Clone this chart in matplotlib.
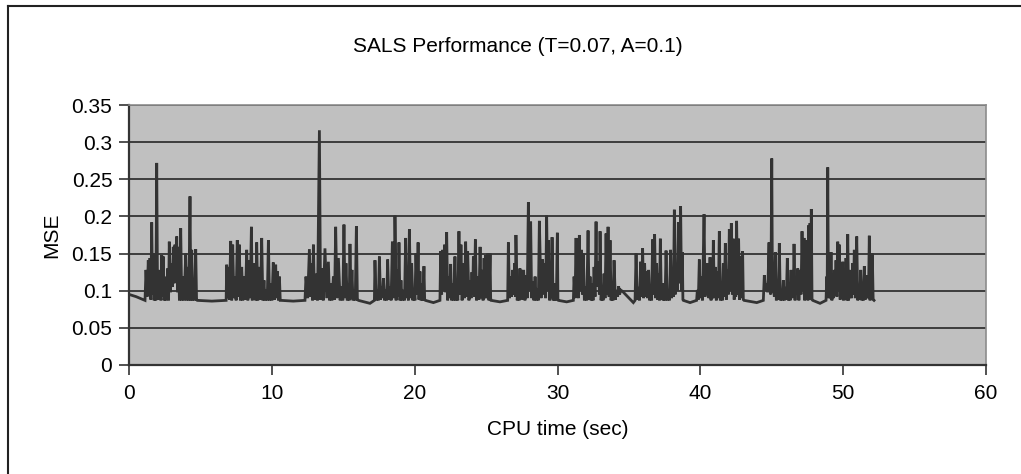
import matplotlib
matplotlib.use("Agg")
import matplotlib.pyplot as plt
from matplotlib.lines import Line2D

# SALS run: CPU time (sec) vs. mean squared error
cpu_time = [
    0.00, 0.50, 1.12,
    1.19, 1.27, 1.35, 1.41, 1.47, 1.53, 1.59, 1.65, 1.70, 1.76, 1.82, 1.88, 1.94, 2.00,
    2.05, 2.11, 2.17, 2.23, 2.29, 2.35, 2.40, 2.46, 2.52, 2.58, 2.64, 2.68, 2.71, 2.77,
    2.82, 2.90, 2.99, 3.05, 3.10, 3.16, 3.22, 3.28, 3.34, 3.40, 3.45, 3.53, 3.62, 3.69,
    3.76, 3.86, 3.97, 4.04, 4.11, 4.19, 4.27, 4.33, 4.39, 4.45, 4.50, 4.58, 4.67, 4.73, 4.78,
    5.80, 6.80,
    6.84, 6.90, 6.95, 7.03, 7.12, 7.19, 7.26, 7.34, 7.42, 7.50, 7.58, 7.65, 7.72, 7.80,
    7.89, 7.97, 8.05, 8.15, 8.24, 8.32, 8.40, 8.48, 8.57, 8.63, 8.70, 8.76, 8.82, 8.88,
    8.94, 9.02, 9.10, 9.20, 9.29, 9.37, 9.45, 9.52, 9.59, 9.68, 9.76, 9.84, 9.92, 10.01,
    10.10, 10.18, 10.27, 10.33, 10.39, 10.46, 10.53, 10.59, 10.64,
    11.50, 12.32,
    12.39, 12.51, 12.63, 12.71, 12.79, 12.85, 12.91, 12.99, 13.07, 13.20, 13.33, 13.41,
    13.49, 13.60, 13.72, 13.84, 13.96, 14.04, 14.12, 14.21, 14.31, 14.39, 14.47, 14.56,
    14.66, 14.78, 14.89, 14.97, 15.05, 15.12, 15.19, 15.28, 15.36, 15.42, 15.47, 15.54,
    15.61, 15.68, 15.75, 15.84, 15.92, 15.99, 16.06,
    16.87, 17.18,
    17.22, 17.30, 17.39, 17.46, 17.53, 17.61, 17.69, 17.75, 17.81, 17.89, 17.97, 18.04,
    18.11, 18.19, 18.27, 18.35, 18.44, 18.50, 18.55, 18.59, 18.62, 18.70, 18.79, 18.85,
    18.90, 18.97, 19.04, 19.12, 19.21, 19.29, 19.37, 19.43, 19.49, 19.56, 19.63, 19.71,
    19.79, 19.87, 19.95, 20.02, 20.09, 20.17, 20.24, 20.30, 20.37, 20.44, 20.51, 20.58,
    20.65, 20.70, 20.75,
    21.31, 21.77,
    21.82, 21.89, 21.96, 22.03, 22.10, 22.17, 22.24, 22.31, 22.38, 22.45, 22.52, 22.59,
    22.66, 22.74, 22.82, 22.88, 22.94, 23.02, 23.10, 23.17, 23.24, 23.32, 23.41, 23.49,
    23.57, 23.64, 23.71, 23.80, 23.88, 23.95, 24.01, 24.06, 24.11, 24.18, 24.25, 24.33,
    24.41, 24.50, 24.58, 24.65, 24.72, 24.79, 24.86, 24.92, 24.97, 25.04, 25.11, 25.20,
    25.28, 25.32, 25.35,
    25.97, 26.51,
    26.56, 26.64, 26.72, 26.79, 26.86, 26.93, 27.00, 27.05, 27.09, 27.18, 27.26, 27.32,
    27.37, 27.43, 27.49, 27.56, 27.63, 27.72, 27.80, 27.88, 27.96, 28.04, 28.12, 28.19,
    28.26, 28.35, 28.43, 28.51, 28.59, 28.66, 28.73, 28.85, 28.96, 29.03, 29.10, 29.17,
    29.24, 29.31, 29.38, 29.45, 29.52, 29.57, 29.62, 29.69, 29.76, 29.80, 29.85, 29.92,
    29.99, 30.03, 30.06,
    30.64, 31.11,
    31.16, 31.23, 31.30, 31.35, 31.39, 31.46, 31.53, 31.60, 31.67, 31.74, 31.81, 31.88,
    31.95, 32.05, 32.14, 32.21, 32.28, 32.35, 32.42, 32.49, 32.56, 32.63, 32.70, 32.75,
    32.79, 32.84, 32.88, 32.93, 32.98, 33.05, 33.12, 33.19, 33.26, 33.33, 33.40, 33.47,
    33.54, 33.61, 33.68, 33.75, 33.82, 33.89, 33.96, 34.05, 34.14, 34.21, 34.28, 34.35,
    34.42, 34.56, 35.31,
    35.43, 35.50, 35.58, 35.66, 35.74, 35.82, 35.89, 35.96, 36.03, 36.10, 36.17, 36.24,
    36.31, 36.38, 36.45, 36.52, 36.59, 36.66, 36.73, 36.80, 36.87, 36.94, 37.01, 37.08,
    37.14, 37.20, 37.27, 37.34, 37.40, 37.46, 37.53, 37.60, 37.68, 37.76, 37.84, 37.92,
    37.99, 38.06, 38.12, 38.18, 38.24, 38.30, 38.38, 38.46, 38.54, 38.62, 38.68, 38.74,
    38.78, 38.81,
    39.28, 39.74,
    39.79, 39.86, 39.93, 39.99, 40.05, 40.15, 40.26, 40.33, 40.40, 40.45, 40.51, 40.60,
    40.68, 40.75, 40.82, 40.86, 40.91, 40.98, 41.05, 41.12, 41.19, 41.26, 41.33, 41.40,
    41.47, 41.54, 41.61, 41.68, 41.75, 41.82, 41.89, 41.96, 42.03, 42.10, 42.17, 42.24,
    42.31, 42.37, 42.43, 42.48, 42.54, 42.61, 42.68, 42.75, 42.82, 42.89, 42.96, 43.01,
    43.06,
    43.95, 44.41,
    44.48, 44.56, 44.64, 44.72, 44.81, 44.84, 44.88, 44.94, 45.00, 45.05, 45.11, 45.18,
    45.25, 45.32, 45.39, 45.46, 45.53, 45.60, 45.67, 45.74, 45.81, 45.88, 45.95, 46.02,
    46.09, 46.16, 46.23, 46.29, 46.35, 46.41, 46.47, 46.51, 46.56, 46.63, 46.70, 46.76,
    46.82, 46.90, 46.98, 47.05, 47.12, 47.19, 47.26, 47.30, 47.35, 47.41, 47.47, 47.53,
    47.59, 47.63, 47.68, 47.72, 47.77, 47.82, 47.87,
    48.38, 48.80,
    48.85, 48.88, 48.92, 48.97, 49.03, 49.09, 49.15, 49.21, 49.27, 49.32, 49.38, 49.44,
    49.50, 49.56, 49.62, 49.67, 49.73, 49.79, 49.85, 49.91, 49.97, 50.02, 50.08, 50.14,
    50.20, 50.26, 50.32, 50.38, 50.43, 50.48, 50.53, 50.60, 50.67, 50.72, 50.78, 50.86,
    50.95, 51.02, 51.09, 51.16, 51.23, 51.30, 51.37, 51.42, 51.48, 51.54, 51.60, 51.66,
    51.72, 51.77, 51.83, 51.88, 51.93, 51.98, 52.04, 52.10, 52.16,
]

mse = [
    0.095, 0.092, 0.087,
    0.128, 0.092, 0.141, 0.100, 0.144, 0.088, 0.192, 0.095, 0.150, 0.087, 0.099, 0.087, 0.272, 0.088,
    0.119, 0.090, 0.128, 0.087, 0.148, 0.092, 0.146, 0.087, 0.101, 0.087, 0.119, 0.095, 0.130, 0.087,
    0.166, 0.098, 0.137, 0.105, 0.159, 0.110, 0.162, 0.115, 0.173, 0.098, 0.159, 0.087, 0.184, 0.087,
    0.119, 0.087, 0.150, 0.087, 0.132, 0.087, 0.227, 0.087, 0.155, 0.087, 0.101, 0.087, 0.156, 0.088, 0.087,
    0.086, 0.087,
    0.135, 0.090, 0.132, 0.088, 0.167, 0.087, 0.162, 0.090, 0.119, 0.087, 0.168, 0.092, 0.162, 0.087,
    0.132, 0.087, 0.119, 0.088, 0.155, 0.087, 0.141, 0.090, 0.186, 0.087, 0.137, 0.090, 0.119, 0.087,
    0.165, 0.087, 0.132, 0.088, 0.171, 0.087, 0.114, 0.087, 0.101, 0.087, 0.168, 0.087, 0.110, 0.087,
    0.138, 0.088, 0.135, 0.090, 0.126, 0.087, 0.119, 0.087, 0.087,
    0.086, 0.087,
    0.119, 0.090, 0.156, 0.092, 0.137, 0.087, 0.162, 0.088, 0.123, 0.087, 0.316, 0.088,
    0.130, 0.087, 0.157, 0.090, 0.139, 0.087, 0.110, 0.087, 0.119, 0.088, 0.186, 0.090,
    0.144, 0.087, 0.106, 0.087, 0.189, 0.090, 0.137, 0.087, 0.110, 0.087, 0.163, 0.090,
    0.128, 0.087, 0.101, 0.087, 0.187, 0.088, 0.087,
    0.083, 0.087,
    0.141, 0.087, 0.101, 0.087, 0.146, 0.088, 0.106, 0.090, 0.117, 0.087, 0.101, 0.087,
    0.142, 0.088, 0.106, 0.087, 0.166, 0.090, 0.128, 0.092, 0.201, 0.087, 0.128, 0.092,
    0.165, 0.087, 0.114, 0.087, 0.101, 0.087, 0.171, 0.090, 0.123, 0.087, 0.183, 0.090,
    0.137, 0.087, 0.101, 0.087, 0.150, 0.095, 0.165, 0.088, 0.126, 0.087, 0.110, 0.087,
    0.133, 0.088, 0.087,
    0.084, 0.087,
    0.153, 0.095, 0.155, 0.100, 0.162, 0.098, 0.179, 0.087, 0.119, 0.090, 0.136, 0.087,
    0.110, 0.087, 0.146, 0.087, 0.101, 0.087, 0.180, 0.095, 0.162, 0.087, 0.137, 0.090,
    0.166, 0.092, 0.153, 0.087, 0.114, 0.090, 0.125, 0.095, 0.146, 0.092, 0.169, 0.087,
    0.119, 0.088, 0.159, 0.090, 0.128, 0.087, 0.144, 0.090, 0.148, 0.090, 0.150, 0.087,
    0.150, 0.090, 0.087,
    0.085, 0.087,
    0.165, 0.090, 0.119, 0.092, 0.128, 0.095, 0.137, 0.092, 0.175, 0.087, 0.110, 0.087,
    0.130, 0.090, 0.128, 0.088, 0.128, 0.087, 0.121, 0.090, 0.219, 0.100, 0.193, 0.090,
    0.112, 0.087, 0.119, 0.087, 0.103, 0.087, 0.194, 0.090, 0.142, 0.095, 0.137, 0.090,
    0.201, 0.100, 0.168, 0.087, 0.132, 0.090, 0.172, 0.087, 0.110, 0.087, 0.101, 0.087,
    0.178, 0.088, 0.087,
    0.085, 0.087,
    0.119, 0.090, 0.171, 0.092, 0.119, 0.090, 0.175, 0.100, 0.155, 0.095, 0.150, 0.087,
    0.106, 0.087, 0.181, 0.088, 0.119, 0.087, 0.110, 0.087, 0.132, 0.092, 0.193, 0.110,
    0.137, 0.105, 0.139, 0.095, 0.180, 0.087, 0.106, 0.087, 0.123, 0.090, 0.177, 0.095,
    0.186, 0.092, 0.168, 0.087, 0.112, 0.087, 0.141, 0.088, 0.101, 0.092, 0.106, 0.095,
    0.101, 0.099, 0.084,
    0.087, 0.150, 0.088, 0.105, 0.087, 0.139, 0.092, 0.157, 0.090, 0.137, 0.092, 0.126,
    0.090, 0.128, 0.087, 0.105, 0.087, 0.169, 0.095, 0.176, 0.090, 0.137, 0.088, 0.123,
    0.087, 0.170, 0.088, 0.110, 0.087, 0.101, 0.087, 0.154, 0.087, 0.101, 0.087, 0.155,
    0.090, 0.119, 0.092, 0.209, 0.095, 0.137, 0.100, 0.192, 0.110, 0.214, 0.100, 0.152,
    0.088, 0.087,
    0.084, 0.087,
    0.101, 0.088, 0.142, 0.090, 0.119, 0.087, 0.203, 0.092, 0.135, 0.095, 0.137, 0.090,
    0.145, 0.087, 0.119, 0.090, 0.168, 0.090, 0.132, 0.087, 0.126, 0.090, 0.180, 0.087,
    0.112, 0.087, 0.137, 0.092, 0.164, 0.088, 0.128, 0.095, 0.183, 0.100, 0.191, 0.095,
    0.170, 0.088, 0.119, 0.092, 0.194, 0.095, 0.170, 0.088, 0.146, 0.090, 0.153, 0.088,
    0.087,
    0.084, 0.087,
    0.121, 0.100, 0.110, 0.098, 0.165, 0.100, 0.099, 0.095, 0.278, 0.098, 0.119, 0.092,
    0.152, 0.087, 0.101, 0.088, 0.164, 0.087, 0.092, 0.087, 0.114, 0.087, 0.105, 0.088,
    0.144, 0.087, 0.101, 0.087, 0.128, 0.090, 0.112, 0.092, 0.163, 0.087, 0.119, 0.095,
    0.130, 0.087, 0.128, 0.095, 0.180, 0.100, 0.171, 0.087, 0.101, 0.090, 0.168, 0.087,
    0.188, 0.090, 0.191, 0.088, 0.210, 0.088, 0.087,
    0.083, 0.087,
    0.119, 0.095, 0.266, 0.090, 0.101, 0.090, 0.152, 0.087, 0.103, 0.090, 0.128, 0.095,
    0.141, 0.092, 0.166, 0.100, 0.162, 0.088, 0.119, 0.092, 0.139, 0.087, 0.110, 0.090,
    0.144, 0.087, 0.176, 0.087, 0.112, 0.090, 0.128, 0.090, 0.137, 0.095, 0.155, 0.090,
    0.173, 0.087, 0.101, 0.088, 0.128, 0.087, 0.099, 0.087, 0.133, 0.088, 0.101, 0.090,
    0.121, 0.090, 0.174, 0.087, 0.101, 0.088, 0.150, 0.088, 0.087,
]

x_ticks = [0, 10, 20, 30, 40, 50, 60]
y_ticks = [0, 0.05, 0.1, 0.15, 0.2, 0.25, 0.3, 0.35]
y_tick_labels = ["0", "0.05", "0.1", "0.15", "0.2", "0.25", "0.3", "0.35"]

plt.rcParams["font.family"] = ["Liberation Sans", "DejaVu Sans"]

W, H = 1021, 474
fig = plt.figure(figsize=(W / 100, H / 100), dpi=100)
fig.patch.set_facecolor("white")

# chart frame: only its left and top edges lie on the canvas
frame_x, frame_y = 7.5 / W, 1 - 5.5 / H
fig.add_artist(Line2D([frame_x, frame_x], [0, frame_y], transform=fig.transFigure,
                      color="#222222", linewidth=1.5))
fig.add_artist(Line2D([frame_x, 1], [frame_y, frame_y], transform=fig.transFigure,
                      color="#222222", linewidth=1.5))

ax = fig.add_axes([129 / W, (H - 365) / H, (986 - 129) / W, (365 - 105) / H])
ax.set_facecolor("#c0c0c0")

ax.plot(cpu_time, mse, color="#333333", linewidth=2.0, solid_joinstyle="miter",
        zorder=3)

ax.set_xlim(0, 60)
ax.set_ylim(0, 0.35)
ax.set_xticks(x_ticks)
ax.set_yticks(y_ticks)
ax.set_yticklabels(y_tick_labels)
ax.grid(axis="y", color="#333333", linewidth=1.3, zorder=1)
ax.set_axisbelow(True)

for side in ("left", "bottom"):
    ax.spines[side].set_color("#333333")
    ax.spines[side].set_linewidth(1.6)
for side in ("top", "right"):
    ax.spines[side].set_color("#8c8c8c")
    ax.spines[side].set_linewidth(1.2)

ax.tick_params(axis="both", direction="out", length=7, width=1.2,
               color="#333333", labelsize=15, labelcolor="black")
ax.tick_params(axis="x", pad=7)
ax.tick_params(axis="y", pad=5)

ax.set_title("SALS Performance (T=0.07, A=0.1)", fontsize=15, pad=38,
             x=(518 - 129) / (986 - 129))
ax.set_xlabel("CPU time (sec)", fontsize=15, labelpad=12)
ax.set_ylabel("MSE", fontsize=15, labelpad=7)

fig.savefig("out.png", dpi=100)
